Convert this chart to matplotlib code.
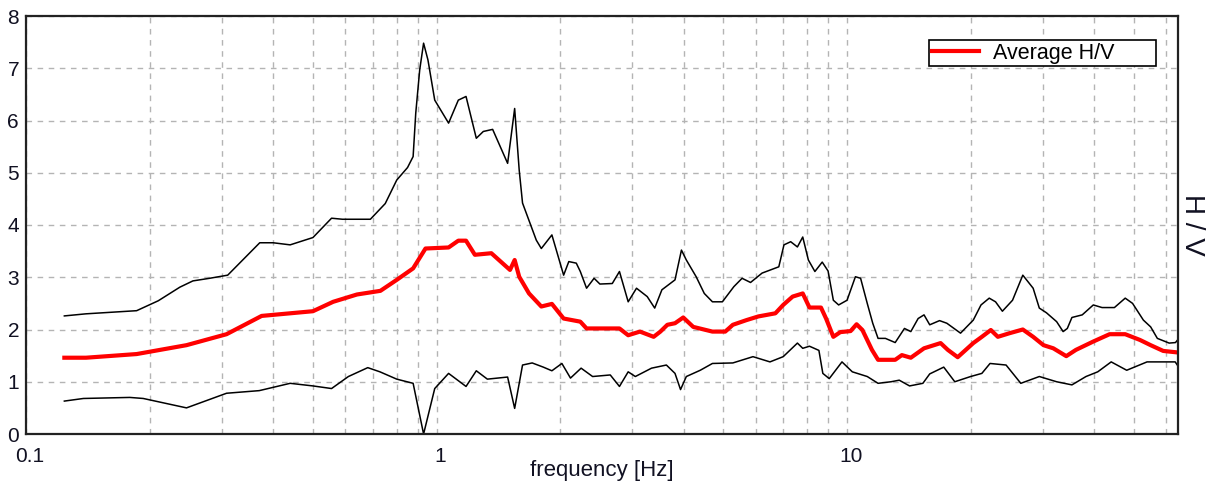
import matplotlib
matplotlib.use("Agg")
import matplotlib.pyplot as plt
from matplotlib.ticker import FixedLocator, NullFormatter
from matplotlib.transforms import ScaledTranslation

plt.rcParams['font.family'] = ['Liberation Sans', 'DejaVu Sans']

# ---- data ----
upper_f = [0.124, 0.14, 0.186, 0.21, 0.237, 0.255, 0.28, 0.31, 0.371, 0.40, 0.44, 0.50,
           0.555, 0.59, 0.69, 0.75, 0.80, 0.85, 0.877, 0.89, 0.91, 0.93, 0.953, 0.99,
           1.07, 1.13, 1.18, 1.25, 1.30, 1.37, 1.49, 1.55, 1.59, 1.62, 1.75, 1.80, 1.91,
           2.04, 2.10, 2.19, 2.24, 2.32, 2.42, 2.50, 2.68, 2.79, 2.93, 3.07, 3.26, 3.40,
           3.54, 3.81, 3.95, 4.06, 4.29, 4.49, 4.70, 4.97, 5.30, 5.55, 5.82, 6.21, 6.82,
           7.02, 7.29, 7.57, 7.80, 8.05, 8.35, 8.70, 8.99, 9.26, 9.54, 10.0, 10.48, 10.79,
           11.2, 11.55, 11.9, 12.4, 13.1, 13.8, 14.3, 14.9, 15.4, 15.9, 16.8, 17.5, 18.9,
           20.3, 21.2, 22.2, 23.0, 23.9, 25.3, 26.8, 28.4, 29.4, 30.6, 32.4, 33.6, 34.4,
           35.3, 37.4, 39.8, 41.8, 44.8, 47.6, 49.6, 52.7, 54.9, 57.0, 60.9, 63.1, 64.0]
upper_hv = [2.26, 2.30, 2.36, 2.55, 2.81, 2.93, 2.98, 3.04, 3.66, 3.66, 3.62, 3.76,
            4.13, 4.11, 4.11, 4.41, 4.86, 5.10, 5.31, 6.14, 6.97, 7.48, 7.16, 6.39,
            5.95, 6.39, 6.46, 5.66, 5.79, 5.83, 5.18, 6.23, 5.05, 4.42, 3.71, 3.55, 3.81,
            3.04, 3.30, 3.27, 3.11, 2.79, 2.98, 2.87, 2.88, 3.11, 2.53, 2.79, 2.63, 2.41,
            2.76, 2.95, 3.52, 3.33, 3.01, 2.69, 2.53, 2.53, 2.82, 2.98, 2.90, 3.08, 3.20,
            3.62, 3.68, 3.58, 3.77, 3.33, 3.11, 3.29, 3.12, 2.56, 2.47, 2.56, 3.01, 2.98,
            2.50, 2.12, 1.83, 1.83, 1.75, 2.02, 1.96, 2.21, 2.28, 2.09, 2.17, 2.12, 1.93,
            2.18, 2.47, 2.60, 2.53, 2.35, 2.56, 3.04, 2.79, 2.41, 2.32, 2.15, 1.96, 2.02,
            2.23, 2.28, 2.47, 2.42, 2.42, 2.60, 2.50, 2.18, 2.05, 1.83, 1.74, 1.75, 1.81]

avg_f = [0.124, 0.14, 0.186, 0.246, 0.308, 0.375, 0.44, 0.50, 0.56, 0.64, 0.73, 0.80,
         0.877, 0.94, 1.07, 1.13, 1.18, 1.24, 1.36, 1.51, 1.55, 1.59, 1.68, 1.80, 1.91,
         2.04, 2.24, 2.32, 2.79, 2.93, 3.13, 3.38, 3.51, 3.65, 3.81, 3.99, 4.22, 4.70,
         5.05, 5.27, 5.69, 6.08, 6.69, 6.99, 7.37, 7.80, 8.10, 8.64, 8.89, 9.26, 9.63,
         10.2, 10.55, 10.9, 11.5, 11.9, 13.1, 13.6, 14.3, 15.4, 16.9, 17.6, 18.6, 20.3,
         21.3, 22.4, 23.3, 24.9, 26.8, 28.4, 30.1, 31.8, 34.2, 36.1, 39.8, 43.6, 47.6,
         51.7, 54.9, 58.9, 64.0]
avg_hv = [1.46, 1.46, 1.53, 1.70, 1.91, 2.26, 2.31, 2.35, 2.53, 2.67, 2.74, 2.95,
          3.17, 3.55, 3.57, 3.70, 3.70, 3.43, 3.46, 3.14, 3.33, 3.01, 2.69, 2.44, 2.49,
          2.21, 2.15, 2.02, 2.02, 1.89, 1.96, 1.86, 1.96, 2.09, 2.12, 2.23, 2.05, 1.96,
          1.96, 2.09, 2.18, 2.25, 2.31, 2.47, 2.63, 2.69, 2.42, 2.42, 2.21, 1.86, 1.95,
          1.97, 2.10, 1.99, 1.61, 1.42, 1.42, 1.51, 1.46, 1.64, 1.74, 1.61, 1.47, 1.74,
          1.86, 1.99, 1.86, 1.93, 2.00, 1.86, 1.70, 1.64, 1.49, 1.61, 1.77, 1.91, 1.91,
          1.80, 1.70, 1.59, 1.56]

lower_f = [0.124, 0.138, 0.179, 0.193, 0.246, 0.308, 0.37, 0.44, 0.50, 0.555, 0.61, 0.68,
           0.728, 0.80, 0.877, 0.93, 0.99, 1.07, 1.18, 1.25, 1.33, 1.49, 1.55, 1.62, 1.71,
           1.82, 1.91, 2.02, 2.12, 2.25, 2.40, 2.65, 2.79, 2.93, 3.05, 3.34, 3.63, 3.81,
           3.93, 4.06, 4.39, 4.70, 5.27, 5.90, 6.49, 6.99, 7.57, 7.80, 8.10, 8.54, 8.73,
           9.05, 9.72, 10.3, 11.2, 11.9, 12.8, 13.4, 14.2, 15.3, 15.9, 17.2, 18.3, 20.0,
           21.3, 22.3, 24.4, 26.5, 29.4, 32.4, 35.3, 38.2, 40.8, 44.0, 48.0, 53.8, 59.9,
           63.0, 64.0]
lower_hv = [0.63, 0.68, 0.70, 0.68, 0.50, 0.78, 0.83, 0.97, 0.92, 0.87, 1.10, 1.27,
            1.19, 1.05, 0.97, 0.0, 0.87, 1.16, 0.91, 1.21, 1.05, 1.09, 0.49, 1.32, 1.36,
            1.28, 1.21, 1.35, 1.07, 1.26, 1.10, 1.13, 0.91, 1.19, 1.10, 1.26, 1.32, 1.16,
            0.85, 1.10, 1.22, 1.35, 1.36, 1.48, 1.38, 1.48, 1.74, 1.64, 1.68, 1.60, 1.16,
            1.06, 1.38, 1.19, 1.10, 0.97, 1.00, 1.03, 0.92, 0.97, 1.15, 1.28, 1.00, 1.10,
            1.16, 1.35, 1.32, 0.97, 1.10, 1.00, 0.94, 1.10, 1.19, 1.38, 1.22, 1.38, 1.38,
            1.38, 1.30]

x_ticks = [0.1, 1, 10]
x_tick_labels = ["0.1", "1", "10"]
y_ticks = [0, 1, 2, 3, 4, 5, 6, 7, 8]
y_tick_labels = ["0", "1", "2", "3", "4", "5", "6", "7", "8"]

# ---- figure ----
W, H = 1216, 484
fig = plt.figure(figsize=(W / 100, H / 100), dpi=100)
L, R, T, B = 26, 1178, 16, 434
ax = fig.add_axes([L / W, 1 - B / H, (R - L) / W, (B - T) / H])

ax.plot(upper_f, upper_hv, color='black', lw=1.1)
ax.plot(lower_f, lower_hv, color='black', lw=1.1)
ax.plot(avg_f, avg_hv, color='#ff0000', lw=3.0, label='Average H/V')

ax.set_xscale('log')
ax.set_xlim(0.1, 64)
ax.set_ylim(0, 8)

ax.xaxis.set_major_locator(FixedLocator(x_ticks))
ax.set_xticklabels(x_tick_labels)
minor = [m * 10.0**e for e in (-1, 0, 1) for m in range(2, 10) if m * 10.0**e < 64]
ax.xaxis.set_minor_locator(FixedLocator(minor))
ax.xaxis.set_minor_formatter(NullFormatter())
ax.set_yticks(y_ticks)
ax.set_yticklabels(y_tick_labels)

ax.tick_params(axis='both', which='both', length=0, labelsize=15, colors='#111122')
ax.tick_params(axis='x', pad=9)
ax.tick_params(axis='y', pad=5)
shift = ScaledTranslation(4 / 100, 0, fig.dpi_scale_trans)
for lab in ax.get_xticklabels():
    lab.set_transform(lab.get_transform() + shift)

ax.grid(True, which='both', axis='x', color='#b4b4b4', linestyle=(0, (4, 4)), lw=1.0)
ax.grid(True, which='major', axis='y', color='#b4b4b4', linestyle=(0, (4, 4)), lw=1.0)
ax.set_axisbelow(True)

for s in ax.spines.values():
    s.set_color('#222222')
    s.set_linewidth(1.6)

ax.set_xlabel('frequency [Hz]', fontsize=16, labelpad=-4, color='#111122')
fig.text(1192 / W, 1 - ((T + B) / 2) / H, 'H / V', fontsize=20, rotation=270,
         ha='center', va='center', color='#111122')

# legend box: left 929, right 1156, top 40 (pixels)
leg = ax.legend(loc='upper left', fontsize=15.5, frameon=True, fancybox=False,
                borderpad=0.12, handlelength=2.2, handletextpad=0.65, borderaxespad=0,
                mode='expand')
leg.set_bbox_to_anchor(((929 - L) / (R - L), (B - 40) / (B - T),
                        (1156 - 929) / (R - L), 0), transform=ax.transAxes)
leg.get_frame().set_edgecolor('black')
leg.get_frame().set_linewidth(1.2)
leg.get_frame().set_alpha(1)

fig.savefig('out.png', dpi=100)
